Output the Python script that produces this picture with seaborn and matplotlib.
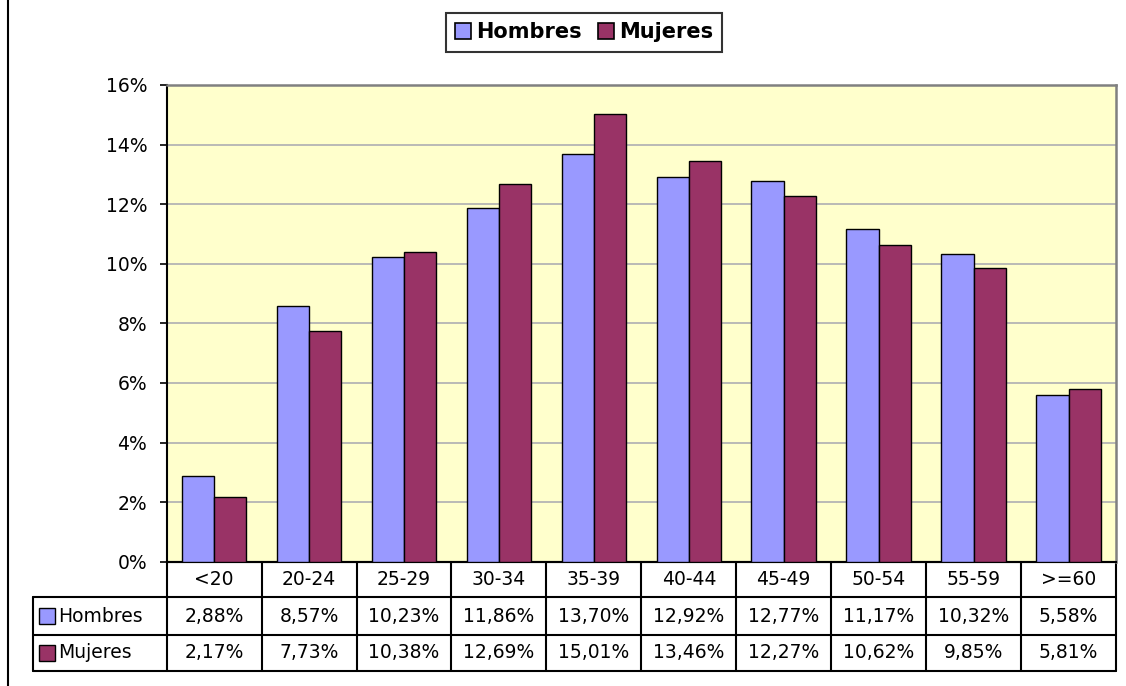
import numpy as np
import pandas as pd
import seaborn as sns
import matplotlib
matplotlib.use("Agg")
import matplotlib.pyplot as plt
import matplotlib.transforms as mtransforms
from matplotlib.patches import Patch
from matplotlib.lines import Line2D

categories = ["<20", "20-24", "25-29", "30-34", "35-39", "40-44", "45-49", "50-54", "55-59", ">=60"]
hombres = [2.88, 8.57, 10.23, 11.86, 13.70, 12.92, 12.77, 11.17, 10.32, 5.58]
mujeres = [2.17, 7.73, 10.38, 12.69, 15.01, 13.46, 12.27, 10.62, 9.85, 5.81]
series_names = ["Hombres", "Mujeres"]
colors = {"Hombres": "#9999FF", "Mujeres": "#993366"}
yticks = [0, 2, 4, 6, 8, 10, 12, 14, 16]

df = pd.DataFrame({
    "cat": categories * 2,
    "serie": ["Hombres"] * len(categories) + ["Mujeres"] * len(categories),
    "val": hombres + mujeres,
})

sns.set_style("white")
plt.rcParams["font.family"] = ["DejaVu Sans"]
plt.rcParams["text.color"] = "black"
plt.rcParams["ytick.color"] = "black"
plt.rcParams["ytick.labelcolor"] = "black"

W, H = 1126, 686
fig = plt.figure(figsize=(W / 100, H / 100), dpi=100)
fig.patch.set_facecolor("white")

ax_l, ax_r, ax_t, ax_b = 166.7, 1116.0, 85.0, 561.7
ax = fig.add_axes([ax_l / W, 1 - ax_b / H, (ax_r - ax_l) / W, (ax_b - ax_t) / H])
ax.set_facecolor("#FFFFCC")

sns.barplot(data=df, x="cat", y="val", hue="serie", order=categories,
            hue_order=series_names, palette=colors, edgecolor="black",
            linewidth=1.0, width=0.68, saturation=1, ax=ax, legend=False, zorder=3)

ax.set_ylim(0, 16)
ax.set_xlim(-0.5, len(categories) - 0.5)
ax.set_yticks(yticks)
fs = 13.5
ax.set_yticklabels([f"{v}%" for v in yticks], fontsize=fs, color="black")
ax.yaxis.grid(True, color="#B4B4B4", linewidth=1.3, zorder=0)
ax.set_axisbelow(True)
ax.set_xticks([])
ax.set_xlabel("")
ax.set_ylabel("")
ax.tick_params(axis="y", which="both", direction="out", length=5, width=1.2,
               color="black", pad=9, left=True)
for s in ["top", "right"]:
    ax.spines[s].set_color("#808080")
    ax.spines[s].set_linewidth(1.8)
for s in ["left", "bottom"]:
    ax.spines[s].set_color("black")
    ax.spines[s].set_linewidth(1.5)

# Data table below the plot
ph = ax_b - ax_t
rows_y = [0.0, -(597.3 - ax_b) / ph, -(635.0 - ax_b) / ph, -(670.7 - ax_b) / ph]
left_frac = (33.0 - ax_l) / (ax_r - ax_l)
blend = mtransforms.blended_transform_factory(ax.transData, ax.transAxes)
lw = 1.5
ax.plot([0, 1], [rows_y[0]] * 2, transform=ax.transAxes, color="black", lw=lw, clip_on=False)
for yy in rows_y[1:]:
    ax.plot([left_frac, 1], [yy, yy], transform=ax.transAxes, color="black", lw=lw, clip_on=False)
for i in range(len(categories) + 1):
    ax.plot([i - 0.5, i - 0.5], [rows_y[0], rows_y[3]], transform=blend, color="black",
            lw=lw, clip_on=False)
ax.plot([left_frac, left_frac], [rows_y[1], rows_y[3]], transform=ax.transAxes,
        color="black", lw=lw, clip_on=False)

for i, c in enumerate(categories):
    ax.text(i, (rows_y[0] + rows_y[1]) / 2, c, transform=blend, ha="center", va="center",
            fontsize=fs, clip_on=False)
    ax.text(i, (rows_y[1] + rows_y[2]) / 2, f"{hombres[i]:.2f}%".replace(".", ","),
            transform=blend, ha="center", va="center", fontsize=fs, clip_on=False)
    ax.text(i, (rows_y[2] + rows_y[3]) / 2, f"{mujeres[i]:.2f}%".replace(".", ","),
            transform=blend, ha="center", va="center", fontsize=fs, clip_on=False)

key_x = (47.0 - ax_l) / (ax_r - ax_l)
txt_x = (58.0 - ax_l) / (ax_r - ax_l)
for name, (ya, yb) in zip(series_names, [(rows_y[1], rows_y[2]), (rows_y[2], rows_y[3])]):
    ym = (ya + yb) / 2
    ax.plot([key_x], [ym], marker="s", markersize=11, markerfacecolor=colors[name],
            markeredgecolor="black", markeredgewidth=1.0, transform=ax.transAxes,
            clip_on=False, linestyle="none")
    ax.text(txt_x, ym, name, transform=ax.transAxes, ha="left", va="center",
            fontsize=fs, clip_on=False)

# Legend at top
handles = [Patch(facecolor=colors[n], edgecolor="black", linewidth=1.2) for n in series_names]
leg = fig.legend(handles, series_names, loc="upper center",
                 bbox_to_anchor=(584 / W, 1 - 13 / H), ncol=2, frameon=True,
                 fancybox=False, edgecolor="black", prop={"weight": "bold", "size": 15},
                 handlelength=0.75, handleheight=0.8, handletextpad=0.25,
                 columnspacing=0.8, borderpad=0.45, borderaxespad=0)
leg.get_frame().set_linewidth(1.5)
for t in leg.get_texts():
    t.set_color("black")

fig.add_artist(Line2D([8 / W, 8 / W], [0, 1], transform=fig.transFigure, color="black", lw=1.5))

fig.savefig("out.png", dpi=100, facecolor="white")
